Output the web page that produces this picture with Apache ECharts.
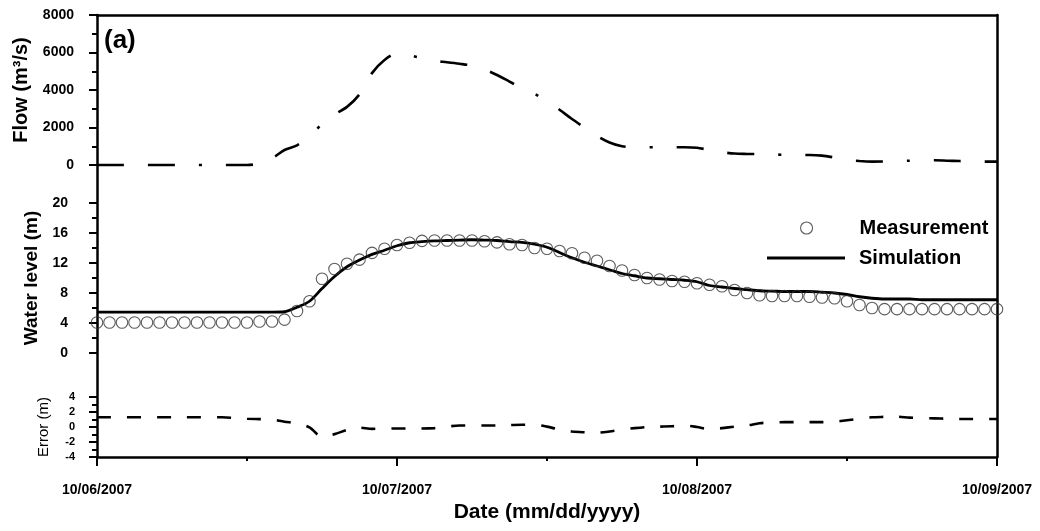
<!DOCTYPE html>
<html>
<head>
<meta charset="utf-8">
<script src="https://cdn.jsdelivr.net/npm/echarts@6/dist/echarts.min.js"></script>
<style>
html,body{margin:0;padding:0;background:#fff;}
#chart{width:1040px;height:531px;}
</style>
</head>
<body>
<div id="chart"></div>
<script>
// ---- data (hours since 10/06/2007 00:00) ----
const HOURS = [0,1,2,3,4,5,6,7,8,9,10,11,12,13,14,15,16,17,18,19,20,21,22,23,24,25,26,27,28,29,30,31,32,33,34,35,36,37,38,39,40,41,42,43,44,45,46,47,48,49,50,51,52,53,54,55,56,57,58,59,60,61,62,63,64,65,66,67,68,69,70,71,72];
const DATE_LABELS = ['10/06/2007','10/07/2007','10/08/2007','10/09/2007'];

const FLOW = [0,0,0,0,0,0,0,0,0,0,0,0,0,80,350,800,1050,1500,2200,2700,3100,3770,4900,5600,5950,5850,5700,5550,5480,5400,5300,5100,4800,4450,4100,3800,3400,2950,2450,2000,1550,1200,1000,950,950,950,950,950,920,800,680,610,590,580,570,540,530,530,500,400,280,210,180,190,210,230,250,250,230,210,190,180,180];

const MEASUREMENT = [4.06,4.06,4.06,4.06,4.06,4.06,4.06,4.06,4.06,4.06,4.06,4.06,4.06,4.2,4.2,4.45,5.6,6.9,9.9,11.2,11.9,12.45,13.35,13.9,14.4,14.7,14.95,15.0,15.0,15.0,15.0,14.9,14.75,14.5,14.4,14.0,13.9,13.6,13.3,12.7,12.3,11.6,11.0,10.4,10.0,9.8,9.6,9.5,9.3,9.1,8.9,8.4,8.0,7.7,7.6,7.6,7.6,7.5,7.4,7.3,6.9,6.4,6.0,5.85,5.85,5.85,5.85,5.85,5.85,5.85,5.85,5.85,5.85];

const SIMULATION = [5.45,5.45,5.45,5.45,5.45,5.45,5.45,5.45,5.45,5.45,5.45,5.45,5.45,5.45,5.45,5.5,6.1,6.9,8.6,10.2,11.5,12.4,13.15,13.7,14.3,14.7,14.85,14.95,15.0,15.05,15.1,15.05,15.0,14.85,14.75,14.5,14.1,13.4,12.7,12.1,11.6,11.1,10.6,10.3,10.0,9.9,9.8,9.7,9.5,9.0,8.8,8.6,8.45,8.3,8.25,8.2,8.2,8.2,8.1,8.0,7.8,7.5,7.3,7.2,7.2,7.2,7.1,7.1,7.1,7.1,7.1,7.1,7.1];

const ERROR = [1.3,1.3,1.3,1.3,1.3,1.3,1.3,1.3,1.3,1.3,1.3,1.2,1.1,1.05,1.0,0.7,0.5,-0.05,-1.3,-0.95,-0.4,-0.1,-0.25,-0.2,-0.2,-0.2,-0.2,-0.15,0.05,0.2,0.2,0.2,0.2,0.25,0.3,0.3,0.05,-0.35,-0.6,-0.7,-0.75,-0.6,-0.35,-0.15,0,0.05,0.1,0.2,0,-0.3,-0.15,0.05,0.2,0.5,0.6,0.65,0.65,0.65,0.65,0.7,0.9,1.1,1.3,1.35,1.38,1.25,1.2,1.15,1.1,1.07,1.07,1.07,1.07];

// ---- chart ----
const FONT = 'Liberation Sans, Arial, sans-serif';
const pairs = arr => HOURS.map((h, i) => [h, arr[i]]);

const chart = echarts.init(document.getElementById('chart'), null, {renderer: 'canvas'});

const gridL = 97, gridR = 43;

function hiddenX(gi) {
  return {gridIndex: gi, type: 'value', min: 0, max: 72, show: false};
}
function panelY(gi, min, max, interval, name, nameGap, labelSize, labelMargin, nameStyle) {
  return {
    gridIndex: gi, type: 'value', min: min, max: max, interval: interval,
    axisLine: {show: false, onZero: false},
    axisTick: {show: true, inside: false, length: 8, lineStyle: {color: '#000', width: 2}},
    minorTick: {show: true, splitNumber: 2, length: 5, lineStyle: {color: '#000', width: 2}},
    splitLine: {show: false},
    axisLabel: {color: '#000', fontFamily: FONT, fontWeight: 'bold', fontSize: labelSize, margin: labelMargin,
      formatter: v => String(v)},
    name: name, nameLocation: 'middle', nameRotate: 90, nameGap: nameGap,
    nameTextStyle: Object.assign({color: '#000', fontFamily: FONT}, nameStyle)
  };
}
function frameAxis(gi, pos) {
  return {
    gridIndex: gi, type: 'value', min: 0, max: 1, position: pos,
    axisLine: {show: true, onZero: false, lineStyle: {color: '#000', width: 2.5}},
    axisTick: {show: false}, axisLabel: {show: false}, splitLine: {show: false}
  };
}
const legendText = {fontFamily: FONT, fontWeight: 'bold', fontSize: 20, color: '#000', padding: [0, 0, 0, 9]};

const option = {
  animation: false,
  backgroundColor: '#fff',
  title: {
    text: '(a)', left: 99, top: 23,
    textStyle: {fontFamily: FONT, fontWeight: 'bold', fontSize: 26, color: '#000'}
  },
  legend: [
    {
      data: [{name: 'Measurement', icon: 'circle'}], left: 800, top: 218, orient: 'vertical', padding: 0,
      itemWidth: 78, itemHeight: 12,
      itemStyle: {color: 'rgba(255,255,255,0)', borderColor: '#333', borderWidth: 1.1},
      textStyle: legendText
    },
    {
      data: [{name: 'Simulation', icon: 'rect'}], left: 767, top: 248, orient: 'vertical', padding: 0,
      itemWidth: 78, itemHeight: 3,
      itemStyle: {color: '#000', borderWidth: 0},
      textStyle: legendText
    }
  ],
  grid: [
    {left: gridL, right: gridR, top: 15, bottom: 74},     // frame
    {left: gridL, right: gridR, top: 15, height: 150},    // flow
    {left: gridL, right: gridR, top: 203, height: 150},   // water level
    {left: gridL, right: gridR, top: 397, height: 60}     // error
  ],
  xAxis: [
    {
      gridIndex: 0, type: 'value', min: 0, max: 72, interval: 24, position: 'bottom',
      axisLine: {show: true, onZero: false, lineStyle: {color: '#000', width: 2.5}},
      axisTick: {show: true, length: 9, lineStyle: {color: '#000', width: 2}},
      minorTick: {show: true, splitNumber: 2, length: 4, lineStyle: {color: '#000', width: 2}},
      splitLine: {show: false},
      axisLabel: {
        color: '#000', fontFamily: FONT, fontWeight: 'bold', fontSize: 14, margin: 26,
        formatter: v => DATE_LABELS[Math.round(v / 24)] || ''
      },
      name: 'Date (mm/dd/yyyy)', nameLocation: 'middle', nameGap: 45,
      nameTextStyle: {color: '#000', fontFamily: FONT, fontWeight: 'bold', fontSize: 21}
    },
    Object.assign(frameAxis(0, 'top'), {max: 72}),
    hiddenX(1), hiddenX(2), hiddenX(3)
  ],
  yAxis: [
    frameAxis(0, 'left'),
    frameAxis(0, 'right'),
    panelY(1, 0, 8000, 2000, 'Flow (m\u00B3/s)', 63, 14, 23, {fontWeight: 'bold', fontSize: 20}),
    panelY(2, 0, 20, 4, 'Water level (m)', 43, 14, 29, {fontWeight: 'bold', fontSize: 19}),
    panelY(3, -4, 4, 2, 'Error (m)', 46, 11, 22, {fontWeight: 'normal', fontSize: 15})
  ],
  series: [
    {
      name: 'Flow', type: 'line', xAxisIndex: 2, yAxisIndex: 2,
      data: pairs(FLOW), symbol: 'none', smooth: 0.3, clip: false,
      lineStyle: {color: '#000', width: 2.6, type: [27, 24, 27, 24, 3, 24]}
    },
    {
      name: 'Simulation', type: 'line', xAxisIndex: 3, yAxisIndex: 3,
      data: pairs(SIMULATION), symbol: 'none', smooth: 0.3, clip: false,
      lineStyle: {color: '#000', width: 2.8},
      itemStyle: {color: '#000'}
    },
    {
      name: 'Measurement', type: 'scatter', xAxisIndex: 3, yAxisIndex: 3,
      data: pairs(MEASUREMENT), symbol: 'circle', symbolSize: 11.5, clip: false,
      itemStyle: {color: 'rgba(255,255,255,0)', borderColor: '#333', borderWidth: 1.1},
      z: 5
    },
    {
      name: 'Error', type: 'line', xAxisIndex: 4, yAxisIndex: 4,
      data: pairs(ERROR), symbol: 'none', smooth: 0.3, clip: false,
      lineStyle: {color: '#000', width: 2.6, type: [14, 16]}
    }
  ]
};
chart.setOption(option);
</script>
</body>
</html>
